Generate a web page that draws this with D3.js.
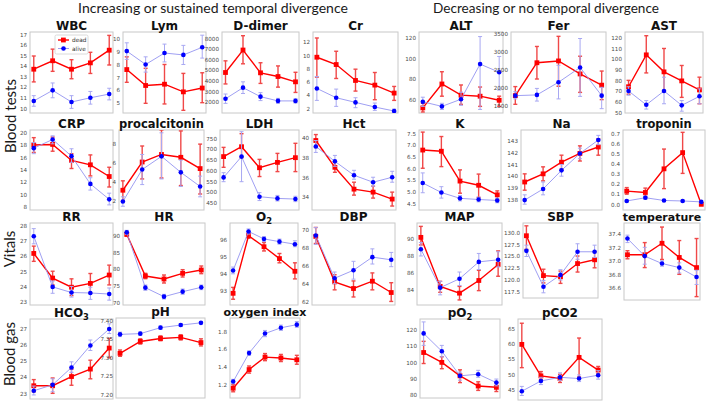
<!DOCTYPE html>
<html><head><meta charset="utf-8">
<script src="https://cdn.jsdelivr.net/npm/d3@7"></script>
<style>body{margin:0;background:#fff}svg{display:block}</style>
</head><body><svg id="c" width="708" height="401"></svg>
<script>
// time points (5 per panel)
const timepoints = [0, 1, 2, 3, 4];
const seriesNames = ['dead', 'alive'];
const sectionTitles = ['Increasing or sustained temporal divergence', 'Decreasing or no temporal divergence'];
const rowLabels = ['Blood tests', 'Vitals', 'Blood gas'];

// values: [mean, lower, upper]
const wbcDead = [[13.7,12.5,14.95],[14.5,13.5,15.6],[13.7,12.8,14.6],[14.3,13.3,15.3],[15.5,14.1,16.9]];
const wbcAlive = [[10.7,10.2,11.2],[11.7,11.0,12.4],[10.6,10.0,11.2],[11.0,10.4,11.6],[11.35,10.8,11.9]];
const wbcTicks = ['10','11','12','13','14','15','16','17'];

const lymDead = [[7.6,6.6,8.6],[6.35,4.95,7.7],[6.45,4.9,8.0],[5.85,4.4,7.3],[6.15,5.0,7.35]];
const lymAlive = [[9.05,8.4,9.7],[8.0,7.4,8.6],[8.9,8.2,9.6],[8.75,8.0,9.5],[9.35,8.5,10.3]];
const lymTicks = ['5','6','7','8','9','10'];

const ddimerDead = [[4780,3700,5880],[6900,5600,8250],[4750,3750,5700],[4400,3400,5400],[3900,2900,4800]];
const ddimerAlive = [[2300,1870,2750],[3350,2800,3900],[2500,2130,2880],[2100,1870,2340],[2100,1900,2300]];
const ddimerTicks = ['2000','3000','4000','5000','6000','7000','8000'];

const crDead = [[9.7,6.7,12.6],[8.6,6.5,10.6],[6.2,4.6,7.9],[5.5,3.3,7.4],[4.3,3.2,5.3]];
const crAlive = [[5.0,3.2,6.8],[3.6,2.3,4.9],[2.9,2.1,3.6],[2.2,1.7,2.8],[1.6,1.3,1.9]];
const crTicks = ['2','4','6','8','10','12'];

const altDead = [[51.5,47.5,56],[75,63,87],[64,55,74],[63,53,72],[59,53,63]];
const altAlive = [[57.5,53,62],[53,50,56],[60,54,67],[94.5,50,121.5],[86.5,69,102]];
const altTicks = ['60','80','100','120'];

const ferDead = [[1780,1540,2030],[2690,2240,3140],[2740,2040,3420],[2380,1870,2870],[2070,1670,2460]];
const ferAlive = [[1780,1690,1890],[1800,1630,1980],[2150,1690,2620],[2560,1760,3360],[1780,1420,2010]];
const ferTicks = ['1500','2000','2500','3000','3500'];

const astDead = [[74,67,80],[104,87,122],[88,70,110],[79.5,64,94],[71,58,83]];
const astAlive = [[70,66,74],[57,53,61],[70,58,83],[56.5,51,61],[65,58,72]];
const astTicks = ['50','60','70','80','90','100','110','120'];

const crpDead = [[18.0,16.8,19.2],[18.1,17.0,19.3],[15.5,14.2,16.6],[14.8,13.0,16.4],[12.9,11.2,14.4]];
const crpAlive = [[17.5,16.6,18.4],[18.9,18.2,19.5],[16.2,15.2,17.4],[11.7,10.7,12.7],[9.2,8.3,10.2]];
const crpTicks = ['8','10','12','14','16','18','20'];

const pctDead = [[3.1,2.0,4.1],[6.1,4.3,7.8],[6.9,4.4,9.5],[6.6,3.6,9.4],[5.4,2.7,8.0]];
const pctAlive = [[1.9,1.4,2.4],[5.3,3.7,6.9],[6.7,4.3,9.2],[5.0,3.5,6.3],[3.5,2.4,4.6]];
const pctTicks = ['2','4','6','8'];

const ldhDead = [[665,615,708],[711,660,772],[613,572,652],[638,595,680],[660,595,727]];
const ldhAlive = [[568,548,590],[665,548,781],[478,460,497],[470,458,484],[467,455,480]];
const ldhTicks = ['450','500','550','600','650','700','750'];

const hctDead = [[39.7,39.0,40.3],[37.0,36.5,37.5],[34.8,34.2,35.5],[34.5,33.9,35.1],[33.8,33.1,34.5]];
const hctAlive = [[39.1,38.5,39.7],[37.6,37.1,38.2],[36.2,35.8,36.7],[35.5,35.1,36.0],[36.0,35.5,36.6]];
const hctTicks = ['34','36','38','40'];

const kDead = [[6.78,6.0,7.55],[6.73,6.07,7.36],[5.45,4.93,5.93],[5.27,4.75,5.75],[4.86,4.67,5.03]];
const kAlive = [[5.37,4.95,5.8],[4.96,4.72,5.21],[4.71,4.6,4.83],[4.66,4.56,4.76],[4.62,4.52,4.72]];
const kTicks = ['4.5','5.0','5.5','6.0','6.5','7.0','7.5'];

const naDead = [[139.5,138.8,140.2],[140.2,139.6,140.8],[141.2,140.6,141.8],[141.95,141.3,142.6],[142.5,141.8,143.2]];
const naAlive = [[137.95,137.6,138.4],[138.9,138.4,139.5],[140.5,140.0,141.0],[141.95,141.5,142.4],[143.1,142.7,143.5]];
const naTicks = ['138','139','140','141','142','143'];

const tropDead = [[0.13,0.1,0.165],[0.117,0.08,0.16],[0.35,0.155,0.545],[0.51,0.305,0.71],[0.0,-0.005,0.01]];
const tropAlive = [[0.033,0.025,0.041],[0.065,0.05,0.08],[0.038,0.03,0.046],[0.033,0.026,0.04],[0.024,0.01,0.035]];
const tropTicks = ['0.0','0.1','0.2','0.3','0.4','0.5','0.6','0.7'];

const rrDead = [[26.17,25.65,26.65],[24.55,24.1,25.0],[23.95,23.4,24.5],[24.2,23.55,24.85],[24.75,24.1,25.4]];
const rrAlive = [[27.3,26.8,27.8],[23.97,23.55,24.35],[23.6,23.3,24.0],[23.57,23.15,23.95],[23.5,23.1,23.9]];
const rrTicks = ['23','24','25','26','27','28'];

const hrDead = [[90.4,89.8,91.0],[77.9,77.1,78.7],[77.0,75.8,78.2],[78.7,77.6,79.8],[79.7,78.6,80.9]];
const hrAlive = [[91.0,90.4,91.6],[74.4,73.6,75.2],[71.7,71.0,72.4],[73.2,72.4,74.0],[74.5,73.8,75.2]];
const hrTicks = ['70','75','80','85','90'];

const o2Dead = [[92.85,92.5,93.2],[96.25,96.1,96.4],[95.6,95.35,95.85],[94.9,94.65,95.2],[94.15,93.7,94.65]];
const o2Alive = [[94.2,94.0,94.4],[96.5,96.35,96.65],[96.06,95.9,96.2],[95.9,95.75,96.05],[95.75,95.6,95.95]];
const o2Ticks = ['93','94','95','96'];

const dbpDead = [[69.3,68.5,70.3],[64.2,63.3,65.0],[63.45,62.5,64.3],[64.27,63.3,65.2],[63.0,62.0,64.1]];
const dbpAlive = [[69.4,68.4,70.3],[64.6,64.0,65.3],[65.5,64.5,66.5],[66.97,66.2,67.9],[66.67,65.9,67.5]];
const dbpTicks = ['62','64','66','68','70'];

const mapDead = [[90.2,89.3,91.5],[84.4,83.7,85.0],[83.6,82.8,84.4],[85.1,83.9,86.3],[87.0,85.6,88.6]];
const mapAlive = [[88.8,88.0,89.6],[84.25,83.4,85.0],[85.3,84.5,86.1],[87.3,86.4,88.3],[87.55,86.7,88.5]];
const mapTicks = ['84','86','88','90'];

const sbpDead = [[129.3,126.4,131.4],[120.85,119.3,122.2],[120.6,119.2,121.8],[123.4,121.6,125.0],[124.2,122.5,125.9]];
const sbpAlive = [[126.1,124.9,127.3],[118.5,117.2,119.8],[121.0,119.9,122.1],[125.9,124.3,127.6],[125.9,124.7,127.3]];
const sbpTicks = ['117.5','120.0','122.5','125.0','127.5','130.0'];

const tempDead = [[37.09,37.03,37.15],[37.09,36.9,37.27],[37.26,37.02,37.5],[37.05,36.8,37.3],[36.9,36.47,37.33]];
const tempAlive = [[37.33,37.27,37.38],[37.07,36.95,37.2],[36.96,36.92,37.0],[36.9,36.82,36.97],[36.76,36.65,36.86]];
const tempTicks = ['36.6','36.8','37.0','37.2','37.4'];

const hco3Dead = [[23.47,23.1,23.85],[23.47,23.0,23.95],[24.04,23.5,24.5],[24.5,23.9,25.05],[25.8,25.2,26.4]];
const hco3Alive = [[23.16,22.9,23.45],[23.53,23.1,23.9],[24.6,24.3,24.95],[25.96,25.65,26.3],[26.98,26.7,27.3]];
const hco3Ticks = ['23','24','25','26','27'];

const phDead = [[7.311,7.303,7.32],[7.343,7.336,7.35],[7.351,7.345,7.358],[7.354,7.347,7.361],[7.34,7.331,7.35]];
const phAlive = [[7.362,7.356,7.368],[7.364,7.36,7.368],[7.38,7.376,7.384],[7.387,7.383,7.391],[7.393,7.39,7.396]];
const phTicks = ['7.20','7.25','7.30','7.35','7.40'];

const oxiDead = [[1.16,1.12,1.2],[1.37,1.33,1.41],[1.51,1.47,1.55],[1.5,1.46,1.54],[1.48,1.43,1.53]];
const oxiAlive = [[1.235,1.21,1.26],[1.555,1.53,1.58],[1.775,1.74,1.81],[1.84,1.81,1.87],[1.875,1.845,1.91]];
const oxiTicks = ['1.2','1.4','1.6','1.8'];

const po2Dead = [[106.1,99.3,113.0],[100.0,96.1,103.5],[91.7,87.5,95.4],[85.4,82.7,88.0],[84.6,82.0,87.5]];
const po2Alive = [[117.9,110.5,125.0],[106.9,103.4,110.5],[91.7,89.0,94.0],[92.7,90.8,95.1],[87.5,85.5,89.7]];
const po2Ticks = ['80','90','100','110','120'];

const pco2Dead = [[59.9,52.2,66.9],[49.5,48.3,50.9],[48.6,47.3,50.0],[55.6,49.1,62.0],[51.4,50.1,52.6]];
const pco2Alive = [[44.4,43.0,46.0],[47.8,46.6,49.0],[49.0,48.0,50.5],[48.6,47.6,49.8],[49.7,48.4,51.2]];
const pco2Ticks = ['45','50','55','60','65'];

// panel list: title pieces [text, subscript]
const panels = [
  {id:'wbc', title:[['WBC','']], dead:wbcDead, alive:wbcAlive, ticks:wbcTicks},
  {id:'lym', title:[['Lym','']], dead:lymDead, alive:lymAlive, ticks:lymTicks},
  {id:'ddimer', title:[['D-dimer','']], dead:ddimerDead, alive:ddimerAlive, ticks:ddimerTicks},
  {id:'cr', title:[['Cr','']], dead:crDead, alive:crAlive, ticks:crTicks},
  {id:'alt', title:[['ALT','']], dead:altDead, alive:altAlive, ticks:altTicks},
  {id:'fer', title:[['Fer','']], dead:ferDead, alive:ferAlive, ticks:ferTicks},
  {id:'ast', title:[['AST','']], dead:astDead, alive:astAlive, ticks:astTicks},
  {id:'crp', title:[['CRP','']], dead:crpDead, alive:crpAlive, ticks:crpTicks},
  {id:'pct', title:[['procalcitonin','']], dead:pctDead, alive:pctAlive, ticks:pctTicks},
  {id:'ldh', title:[['LDH','']], dead:ldhDead, alive:ldhAlive, ticks:ldhTicks},
  {id:'hct', title:[['Hct','']], dead:hctDead, alive:hctAlive, ticks:hctTicks},
  {id:'k', title:[['K','']], dead:kDead, alive:kAlive, ticks:kTicks},
  {id:'na', title:[['Na','']], dead:naDead, alive:naAlive, ticks:naTicks},
  {id:'trop', title:[['troponin','']], dead:tropDead, alive:tropAlive, ticks:tropTicks},
  {id:'rr', title:[['RR','']], dead:rrDead, alive:rrAlive, ticks:rrTicks},
  {id:'hr', title:[['HR','']], dead:hrDead, alive:hrAlive, ticks:hrTicks},
  {id:'o2', title:[['O','2']], dead:o2Dead, alive:o2Alive, ticks:o2Ticks},
  {id:'dbp', title:[['DBP','']], dead:dbpDead, alive:dbpAlive, ticks:dbpTicks},
  {id:'map', title:[['MAP','']], dead:mapDead, alive:mapAlive, ticks:mapTicks},
  {id:'sbp', title:[['SBP','']], dead:sbpDead, alive:sbpAlive, ticks:sbpTicks},
  {id:'temp', title:[['temperature','']], dead:tempDead, alive:tempAlive, ticks:tempTicks},
  {id:'hco3', title:[['HCO','3']], dead:hco3Dead, alive:hco3Alive, ticks:hco3Ticks},
  {id:'ph', title:[['pH','']], dead:phDead, alive:phAlive, ticks:phTicks},
  {id:'oxi', title:[['oxygen index','']], dead:oxiDead, alive:oxiAlive, ticks:oxiTicks},
  {id:'po2', title:[['pO','2']], dead:po2Dead, alive:po2Alive, ticks:po2Ticks},
  {id:'pco2', title:[['pCO2','']], dead:pco2Dead, alive:pco2Alive, ticks:pco2Ticks}
];

// layout: frame [x0,x1,y0,y1], y extent [lo,hi], title font size
const layout = {
  wbc:   {f:[30,113,32,113],  y:[9.56,17.22],   ts:12},
  lym:   {f:[123,206,32,113], y:[4.19,10.55],   ts:12},
  ddimer:{f:[222,299,32,113], y:[960,8600],     ts:12},
  cr:    {f:[313,398,32,113], y:[1.3,13.5],     ts:12},
  alt:   {f:[419,503,32,113], y:[46.5,126],     ts:12},
  fer:   {f:[511,606,32,113], y:[1300,3540],    ts:12},
  ast:   {f:[625,703,32,113], y:[49.3,125.5],   ts:12},
  crp:   {f:[30,113,130,210], y:[7.47,20.44],   ts:12},
  pct:   {f:[119,204,130,210],y:[1.0,9.5],      ts:11.5},
  ldh:   {f:[220,299,130,210],y:[416,789],      ts:12},
  hct:   {f:[312,396,130,210],y:[32.7,40.76],   ts:12},
  k:     {f:[419,501,130,210],y:[4.21,7.64],    ts:12},
  na:    {f:[521,602,130,210],y:[137.1,143.96], ts:12},
  trop:  {f:[623,705,130,210],y:[-0.056,0.733], ts:11.5},
  rr:    {f:[30,113,223,305], y:[22.78,28.17],  ts:12},
  hr:    {f:[123,205,223,305],y:[69.2,93.8],    ts:12},
  o2:    {f:[230,298,223,305],y:[92.16,97.0],   ts:12},
  dbp:   {f:[312,395,223,305],y:[61.6,70.8],    ts:12},
  map:   {f:[417,502,223,305],y:[82.2,91.9],    ts:12},
  sbp:   {f:[523,598,223,298],y:[116.1,132],    ts:12},
  temp:  {f:[624,700,223,300],y:[36.42,37.56],  ts:11},
  hco3:  {f:[30,113,319,399], y:[22.65,27.6],   ts:12},
  ph:    {f:[116,205,318,398],y:[7.191,7.406],  ts:12},
  oxi:   {f:[230,300,318,398],y:[1.05,1.95],    ts:11},
  po2:   {f:[420,500,319,398],y:[78,126.8],     ts:12},
  pco2:  {f:[518,602,319,400],y:[41.5,68.3],    ts:12}
};

const colors = {dead:{line:'#ff0000', mark:'#ff0000', err:'#f04848', lw:1.4, ew:1.4},
                alive:{line:'#9494f0', mark:'#0000ff', err:'#a8a8f2', lw:0.9, ew:1}};

const svg = d3.select('#c');
svg.append('rect').attr('width',708).attr('height',401).attr('fill','#fff');

function fitText(sel, width) {
  const len = sel.node().getComputedTextLength();
  const fs = parseFloat(sel.attr('font-size'));
  sel.attr('font-size', fs * width / len);
}

// section titles
const secPos = [[78,348],[433,659]];
sectionTitles.forEach((t,i)=>{
  const s = svg.append('text').attr('x',(secPos[i][0]+secPos[i][1])/2).attr('y',13)
    .attr('text-anchor','middle').attr('font-family','Lato, "Open Sans", sans-serif')
    .attr('font-size',15).attr('fill','#1a1a1a').text(t);
  fitText(s, secPos[i][1]-secPos[i][0]);
});

// row labels
const rowPos = [[16,116],[15,249],[15,354]];
rowLabels.forEach((t,i)=>{
  svg.append('text').attr('transform',`translate(${rowPos[i][0]},${rowPos[i][1]}) rotate(-90)`)
    .attr('text-anchor','middle').attr('font-family','Lato, "Open Sans", sans-serif')
    .attr('font-size',15).attr('fill','#1a1a1a').text(t);
});

panels.forEach(p=>{
  const L = layout[p.id];
  const [x0,x1,y0,y1] = L.f;
  const x = d3.scaleLinear().domain([-0.2,4.2]).range([x0,x1]);
  const y = d3.scaleLinear().domain(L.y).range([y1,y0]);
  const g = svg.append('g');

  // axis labels
  const ax = g.append('g').attr('transform',`translate(${x0},0)`)
    .call(d3.axisLeft(y).tickValues(p.ticks.map(Number)).tickFormat((d,i)=>p.ticks[i]).tickSize(0).tickPadding(3));
  ax.select('.domain').remove();
  ax.selectAll('text').attr('font-family','"DejaVu Sans", sans-serif').attr('font-size',5.6).attr('fill','#4a4a4a');

  // frame
  g.append('rect').attr('x',x0).attr('y',y0).attr('width',x1-x0).attr('height',y1-y0)
    .attr('fill','none').attr('stroke','#c8c8c8').attr('stroke-width',1);

  // title
  const tt = g.append('text').attr('x',(x0+x1)/2).attr('y',y0-1.8).attr('text-anchor','middle')
    .attr('font-family','"DejaVu Sans", sans-serif').attr('font-weight','bold').attr('font-size',L.ts).attr('fill','#111');
  p.title.forEach(([a,sub])=>{
    tt.append('tspan').text(a);
    if (sub) tt.append('tspan').attr('font-size',L.ts*0.7).attr('dy',3).text(sub);
  });

  const clip = 'clip-'+p.id;
  g.append('clipPath').attr('id',clip).append('rect').attr('x',x0).attr('y',y0).attr('width',x1-x0).attr('height',y1-y0);
  const plot = g.append('g').attr('clip-path',`url(#${clip})`);

  seriesNames.forEach(name=>{
    const data = p[name];
    const c = colors[name];
    const sg = plot.append('g');
    // error bars
    data.forEach((d,i)=>{
      const cx = x(timepoints[i]);
      sg.append('line').attr('x1',cx).attr('x2',cx).attr('y1',y(d[1])).attr('y2',y(d[2]))
        .attr('stroke',c.err).attr('stroke-width',c.ew);
      [d[1],d[2]].forEach(v=>{
        sg.append('line').attr('x1',cx-2).attr('x2',cx+2).attr('y1',y(v)).attr('y2',y(v))
          .attr('stroke',c.err).attr('stroke-width',c.ew);
      });
    });
    // line
    sg.append('path').datum(data)
      .attr('d', d3.line().x((d,i)=>x(timepoints[i])).y(d=>y(d[0])))
      .attr('fill','none').attr('stroke',c.line).attr('stroke-width',c.lw);
    // markers
    if (name==='dead') {
      sg.selectAll('rect.m').data(data).enter().append('rect')
        .attr('x',(d,i)=>x(timepoints[i])-2.4).attr('y',d=>y(d[0])-2.4)
        .attr('width',4.8).attr('height',4.8).attr('fill',c.mark);
    } else {
      sg.selectAll('circle.m').data(data).enter().append('circle')
        .attr('cx',(d,i)=>x(timepoints[i])).attr('cy',d=>y(d[0])).attr('r',2.3).attr('fill',c.mark);
    }
  });

  // legend in first panel
  if (p.id==='wbc') {
    const lg = g.append('g');
    lg.append('rect').attr('x',55).attr('y',35).attr('width',33).attr('height',19).attr('rx',1.5)
      .attr('fill','#fff').attr('stroke','#d0d0d0').attr('stroke-width',0.8);
    seriesNames.forEach((name,i)=>{
      const c = colors[name];
      const ly = 40 + i*8.5;
      lg.append('line').attr('x1',58).attr('x2',69).attr('y1',ly).attr('y2',ly).attr('stroke',c.line).attr('stroke-width',c.lw);
      if (name==='dead') lg.append('rect').attr('x',61).attr('y',ly-2.4).attr('width',4.8).attr('height',4.8).attr('fill',c.mark);
      else lg.append('circle').attr('cx',63.5).attr('cy',ly).attr('r',2.3).attr('fill',c.mark);
      lg.append('text').attr('x',72).attr('y',ly+2).attr('font-family','"DejaVu Sans", sans-serif')
        .attr('font-size',5.8).attr('fill','#333').text(name);
    });
  }
});
</script>
</body></html>
